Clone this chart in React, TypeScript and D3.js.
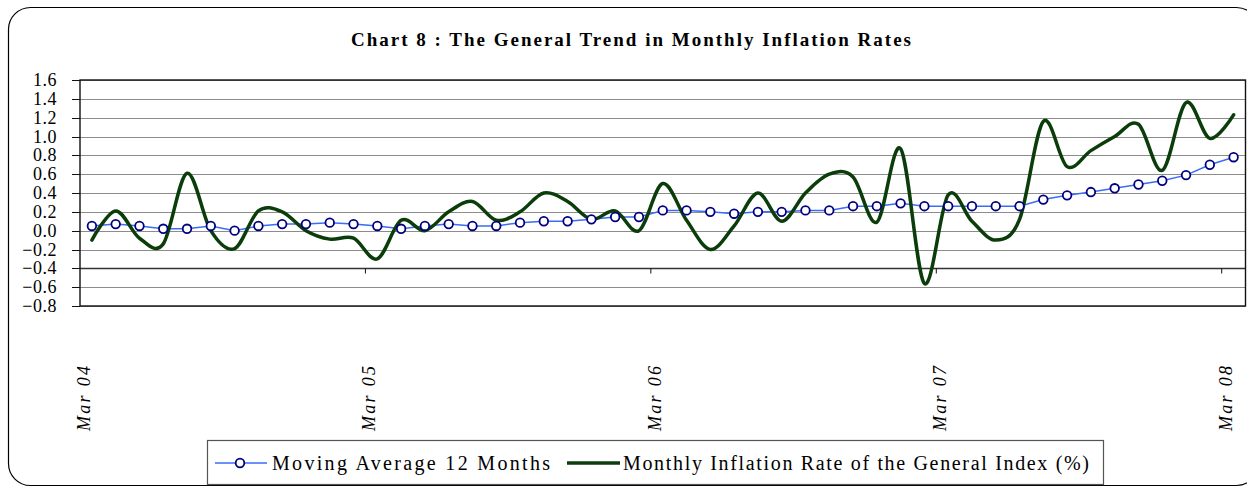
import { useEffect, useRef } from 'react';
import * as d3 from 'd3';

// months Mar 04 .. Mar 08
const months = [
  'Mar 04', 'Apr 04', 'May 04', 'Jun 04', 'Jul 04', 'Aug 04', 'Sep 04', 'Oct 04', 'Nov 04', 'Dec 04', 'Jan 05', 'Feb 05',
  'Mar 05', 'Apr 05', 'May 05', 'Jun 05', 'Jul 05', 'Aug 05', 'Sep 05', 'Oct 05', 'Nov 05', 'Dec 05', 'Jan 06', 'Feb 06',
  'Mar 06', 'Apr 06', 'May 06', 'Jun 06', 'Jul 06', 'Aug 06', 'Sep 06', 'Oct 06', 'Nov 06', 'Dec 06', 'Jan 07', 'Feb 07',
  'Mar 07', 'Apr 07', 'May 07', 'Jun 07', 'Jul 07', 'Aug 07', 'Sep 07', 'Oct 07', 'Nov 07', 'Dec 07', 'Jan 08', 'Feb 08',
  'Mar 08',
];

const tickLabels = ['Mar 04', 'Mar 05', 'Mar 06', 'Mar 07', 'Mar 08'];

const movingAvg = [
  0.05, 0.07, 0.05, 0.02, 0.02, 0.05, 0.0, 0.05, 0.07, 0.07, 0.085, 0.07,
  0.05, 0.02, 0.05, 0.07, 0.05, 0.05, 0.085, 0.1, 0.1, 0.12, 0.145, 0.145,
  0.215, 0.215, 0.2, 0.18, 0.2, 0.2, 0.215, 0.215, 0.26, 0.26, 0.29, 0.26,
  0.26, 0.26, 0.26, 0.26, 0.33, 0.375, 0.41, 0.45, 0.49, 0.53, 0.59, 0.7,
  0.78,
];

const monthlyRate = [
  -0.1, 0.21, -0.08, -0.14, 0.61, 0.0, -0.19, 0.21, 0.2, 0.0, -0.09, -0.08,
  -0.3, 0.11, 0.0, 0.2, 0.31, 0.11, 0.2, 0.4, 0.31, 0.12, 0.21, 0.0,
  0.5, 0.11, -0.2, 0.05, 0.4, 0.1, 0.4, 0.6, 0.57, 0.09, 0.87, -0.56,
  0.38, 0.1, -0.1, 0.12, 1.16, 0.68, 0.85, 1.0, 1.13, 0.64, 1.36, 0.98,
  1.23,
];

const yTicks = [1.6, 1.4, 1.2, 1.0, 0.8, 0.6, 0.4, 0.2, 0.0, -0.2, -0.4, -0.6, -0.8];

const W = 1247;
const H = 487;
const serif = 'Liberation Serif';

export default function App() {
  const ref = useRef<SVGSVGElement>(null);

  useEffect(() => {
    if (!ref.current) return;
    const svg = d3.select(ref.current);
    svg.selectAll('*').remove();

    const left = 80, right = 1245.5, top = 80, bottom = 306;

    // outer rounded frame
    svg.append('rect')
      .attr('x', 8.5).attr('y', 7.5)
      .attr('width', 1250).attr('height', 478)
      .attr('rx', 22).attr('ry', 22)
      .attr('fill', 'white')
      .attr('stroke', '#000').attr('stroke-width', 1.2);

    svg.append('text')
      .attr('x', 631).attr('y', 46)
      .attr('text-anchor', 'middle')
      .style('font-family', serif)
      .style('font-weight', 'bold')
      .style('font-size', '19px')
      .attr('textLength', 560)
      .attr('lengthAdjust', 'spacing')
      .text('Chart 8 : The General Trend in Monthly Inflation Rates');

    const x = d3.scaleBand<number>()
      .domain(d3.range(months.length))
      .range([left, right])
      .paddingInner(0).paddingOuter(0);
    const cx = (i: number) => (x(i) as number) + x.bandwidth() / 2;

    const y = d3.scaleLinear().domain([-0.8, 1.6]).range([bottom, top]);

    const g = svg.append('g');

    // gridlines
    g.selectAll('line.grid')
      .data(yTicks)
      .enter()
      .append('line')
      .attr('x1', left).attr('x2', right)
      .attr('y1', (d) => Math.round(y(d)) + 0.5)
      .attr('y2', (d) => Math.round(y(d)) + 0.5)
      .attr('stroke', (d) => (d === -0.4 ? '#333' : '#8c8c8c'))
      .attr('stroke-width', (d) => (d === -0.4 ? 1.3 : 1));

    // plot border
    g.append('rect')
      .attr('x', left).attr('y', top)
      .attr('width', right - left).attr('height', bottom - top)
      .attr('fill', 'none')
      .attr('stroke', '#111').attr('stroke-width', 1.4);

    // y axis ticks + labels
    g.selectAll('line.ytick')
      .data(yTicks)
      .enter()
      .append('line')
      .attr('x1', 72).attr('x2', left)
      .attr('y1', (d) => Math.round(y(d)) + 0.5)
      .attr('y2', (d) => Math.round(y(d)) + 0.5)
      .attr('stroke', '#111');

    g.selectAll('text.ylab')
      .data(yTicks)
      .enter()
      .append('text')
      .attr('x', 57)
      .attr('y', (d) => y(d) + 6)
      .attr('text-anchor', 'end')
      .style('font-family', serif)
      .style('font-size', '18px')
      .style('letter-spacing', '0.5px')
      .text((d) => d3.format('.1f')(d));

    // category axis ticks at -0.4
    const tickIdx = [0, 12, 24, 36, 48];
    const axisY = Math.round(y(-0.4)) + 0.5;
    g.selectAll('line.xtick')
      .data(tickIdx.slice(1))
      .enter()
      .append('line')
      .attr('x1', (d) => x(d) as number).attr('x2', (d) => x(d) as number)
      .attr('y1', axisY).attr('y2', axisY + 5)
      .attr('stroke', '#111');

    g.selectAll('text.xlab')
      .data(tickIdx)
      .enter()
      .append('text')
      .attr('transform', (d) => `translate(${(x(d) as number) + 10},366) rotate(-90)`)
      .attr('text-anchor', 'end')
      .style('font-family', serif)
      .style('font-style', 'italic')
      .style('font-size', '18px')
      .attr('textLength', 65)
      .attr('lengthAdjust', 'spacing')
      .text((d, i) => tickLabels[i]);

    // moving average line
    const lineAvg = d3.line<number>()
      .x((d, i) => cx(i))
      .y((d) => y(d));
    g.append('path')
      .datum(movingAvg)
      .attr('d', lineAvg)
      .attr('fill', 'none')
      .attr('stroke', '#3a6cf5')
      .attr('stroke-width', 1.5);

    // monthly inflation (smoothed)
    const lineRate = d3.line<number>()
      .x((d, i) => cx(i))
      .y((d) => y(d))
      .curve(d3.curveCatmullRom.alpha(0));
    g.append('path')
      .datum(monthlyRate)
      .attr('d', lineRate)
      .attr('fill', 'none')
      .attr('stroke', '#0b3d0b')
      .attr('stroke-width', 3.5)
      .attr('stroke-linejoin', 'round')
      .attr('stroke-linecap', 'round');

    g.selectAll('circle.ma')
      .data(movingAvg)
      .enter()
      .append('circle')
      .attr('cx', (d, i) => cx(i))
      .attr('cy', (d) => y(d))
      .attr('r', 4.3)
      .attr('fill', 'white')
      .attr('stroke', '#000080')
      .attr('stroke-width', 1.8);

    // legend
    const lg = svg.append('g');
    lg.append('rect')
      .attr('x', 207.5).attr('y', 440.5)
      .attr('width', 896).attr('height', 44)
      .attr('fill', 'white')
      .attr('stroke', '#555').attr('stroke-width', 1.2);
    const ly = 463;
    lg.append('line')
      .attr('x1', 215).attr('x2', 267).attr('y1', ly).attr('y2', ly)
      .attr('stroke', '#3a6cf5').attr('stroke-width', 1.5);
    lg.append('circle')
      .attr('cx', 240).attr('cy', ly).attr('r', 4.3)
      .attr('fill', 'white').attr('stroke', '#000080').attr('stroke-width', 1.8);
    lg.append('text')
      .attr('x', 272).attr('y', ly + 7)
      .style('font-family', serif).style('font-size', '20px')
      .attr('textLength', 278).attr('lengthAdjust', 'spacing')
      .text('Moving Average 12 Months');
    lg.append('line')
      .attr('x1', 567).attr('x2', 620).attr('y1', ly).attr('y2', ly)
      .attr('stroke', '#0b3d0b').attr('stroke-width', 3.5);
    lg.append('text')
      .attr('x', 623).attr('y', ly + 7)
      .style('font-family', serif).style('font-size', '20px')
      .attr('textLength', 466).attr('lengthAdjust', 'spacing')
      .text('Monthly Inflation Rate of the General Index (%)');
  }, []);

  return (
    <svg
      ref={ref}
      width={W}
      height={H}
      style={{ position: 'absolute', left: 0, top: 0, background: 'white' }}
    />
  );
}
